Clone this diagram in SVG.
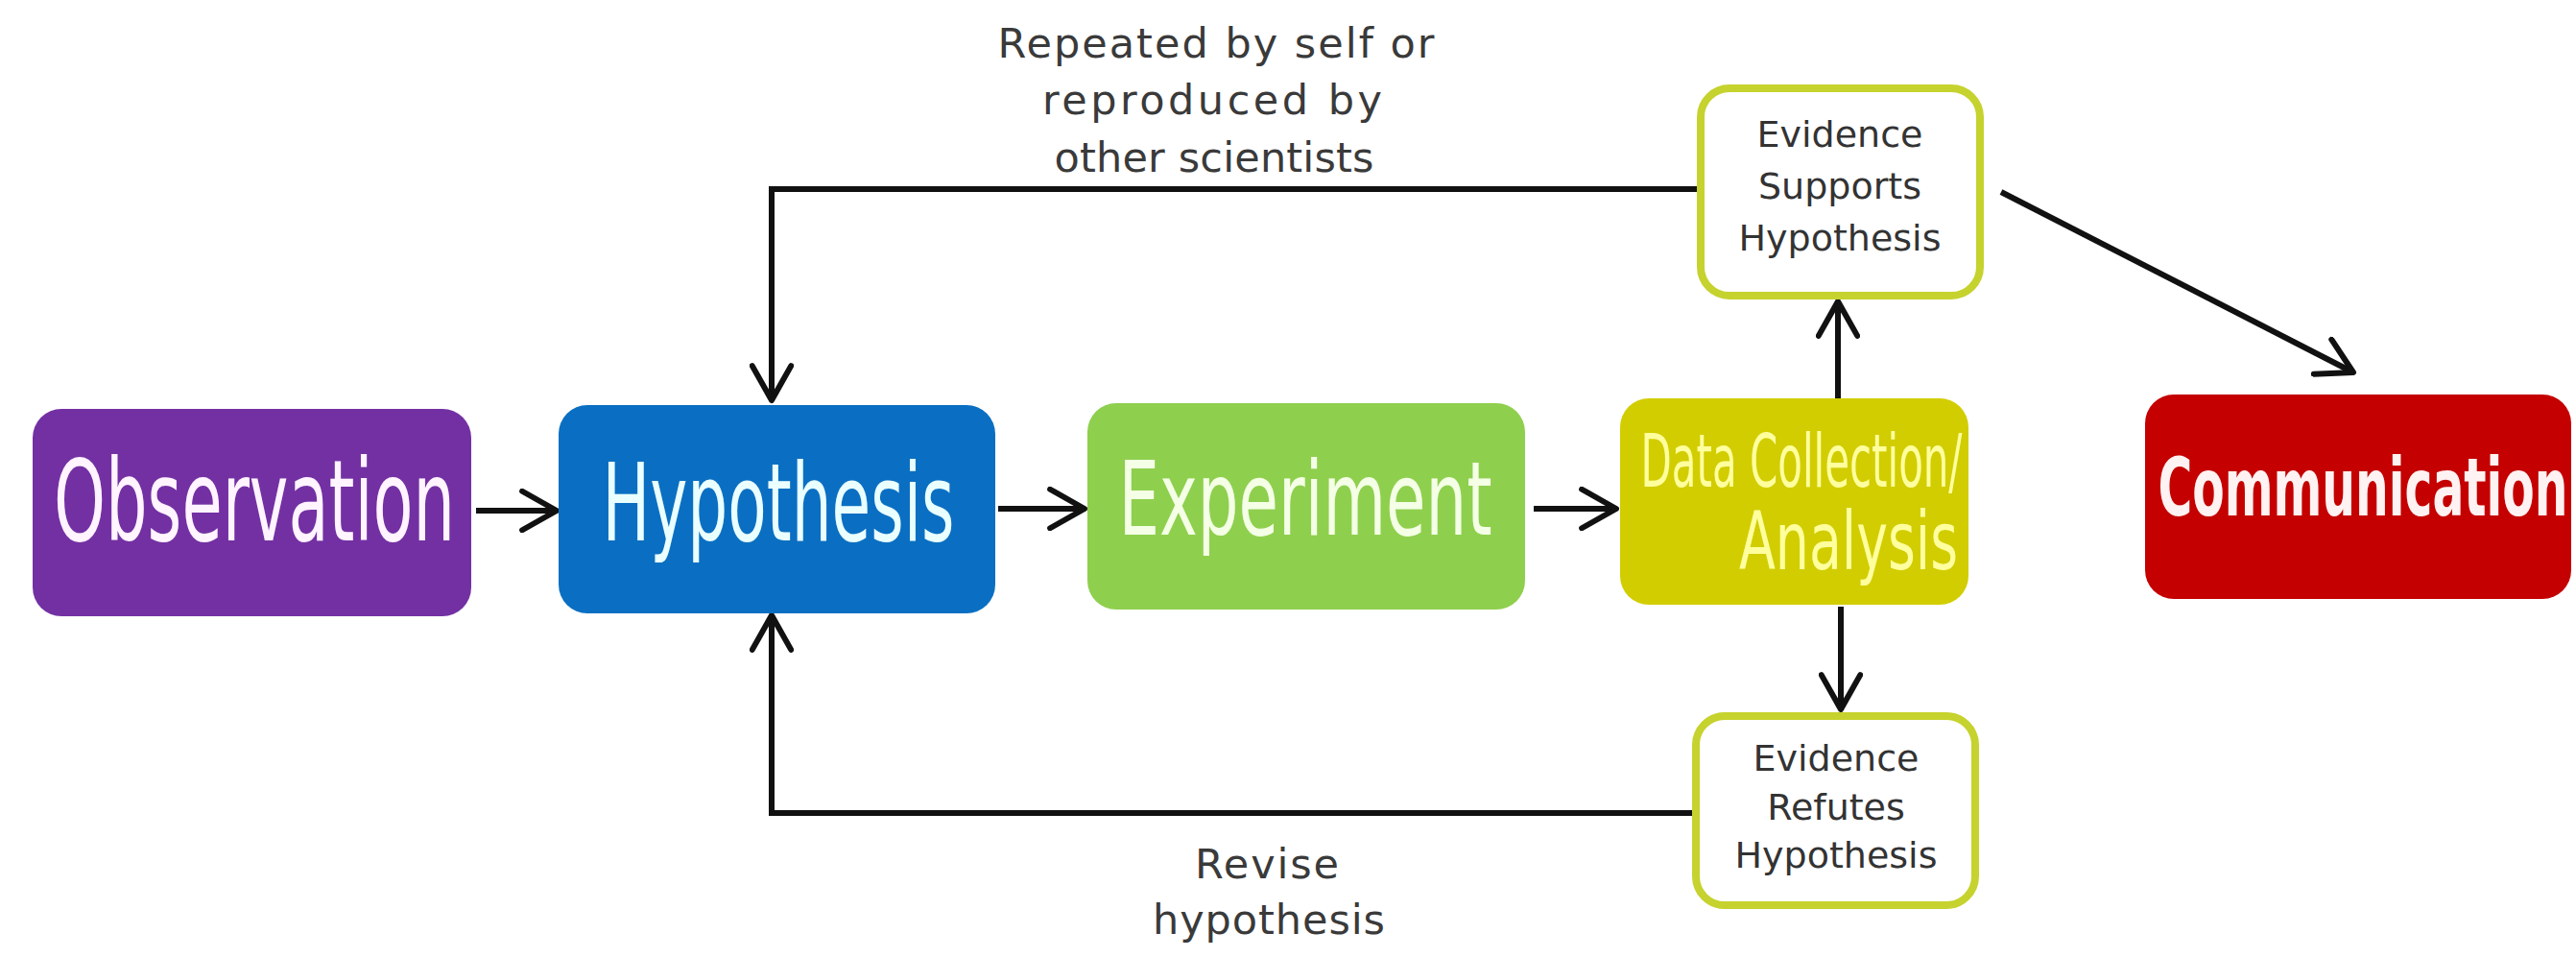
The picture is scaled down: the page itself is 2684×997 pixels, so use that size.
<svg xmlns="http://www.w3.org/2000/svg" width="2684" height="997" viewBox="0 0 2684 997">
<style>
.title{font-family:"Liberation Sans Narrow","DejaVu Sans Condensed","Liberation Sans",sans-serif;text-anchor:middle}
.ev{fill:#ffffff;stroke:#c6d22e;stroke-width:8}
.evt{font-family:"DejaVu Sans","Liberation Sans",sans-serif;font-size:38px;fill:#333333;text-anchor:middle}
.lbl{font-family:"DejaVu Sans","Liberation Sans",sans-serif;font-size:43px;fill:#3a3a3a;text-anchor:middle}
.con{fill:none;stroke:#111111;stroke-width:6;marker-end:url(#arr)}
</style>
<defs>
<marker id="arr" markerUnits="userSpaceOnUse" markerWidth="46" markerHeight="46" viewBox="0 0 50 50" refX="45" refY="25" orient="auto">
<path d="M 6,3 L 45,25 L 6,47" fill="none" stroke="#111111" stroke-width="6.5" stroke-linejoin="round" stroke-linecap="round"/>
</marker>
</defs>
<rect width="2684" height="997" fill="#ffffff"/>
<g id="connectors">
<path class="con" d="M 496,532 L 580,532"/>
<path class="con" d="M 1040,530 L 1130,530"/>
<path class="con" d="M 1598,530 L 1684,530"/>
<path class="con" d="M 1915,415 L 1915,314"/>
<path class="con" d="M 1918,632 L 1918,739"/>
<path class="con" d="M 1768,197 L 804,197 L 804,417"/>
<path class="con" d="M 1766,847 L 804,847 L 804,641"/>
<path class="con" d="M 2085,200 L 2452,388"/>
</g>
<g id="label-repeated">
<text class="lbl" x="1267" y="60" textLength="455" lengthAdjust="spacing">Repeated by self or</text>
<text class="lbl" x="1263" y="119" textLength="354" lengthAdjust="spacing">reproduced by</text>
<text class="lbl" x="1265" y="179" textLength="333" lengthAdjust="spacing">other scientists</text>
</g>
<g id="label-revise">
<text class="lbl" x="1320" y="915" textLength="150" lengthAdjust="spacing">Revise</text>
<text class="lbl" x="1322" y="973" textLength="242" lengthAdjust="spacing">hypothesis</text>
</g>
<g id="observation">
<rect x="34" y="426" width="457" height="216" rx="30" fill="#7330a3"/>
<text class="title" transform="translate(265,563) scale(1,1.64)" font-size="72" fill="#fff4ff" textLength="418" lengthAdjust="spacingAndGlyphs">Observation</text>
</g>
<g id="hypothesis">
<rect x="582" y="422" width="455" height="217" rx="30" fill="#0a6fc2"/>
<text class="title" transform="translate(811,563) scale(1,1.61)" font-size="70" fill="#eaffff" textLength="367" lengthAdjust="spacingAndGlyphs">Hypothesis</text>
</g>
<g id="experiment">
<rect x="1133" y="420" width="456" height="215" rx="30" fill="#8fcf4e"/>
<text class="title" transform="translate(1360,557) scale(1,1.49)" font-size="72" fill="#f4ffe6" textLength="389" lengthAdjust="spacingAndGlyphs">Experiment</text>
</g>
<g id="data-collection">
<rect x="1688" y="415" width="363" height="215" rx="30" fill="#d2cd00"/>
<text class="title" transform="translate(1877,507) scale(1,1.7)" font-size="45" fill="#ffff9e" textLength="335" lengthAdjust="spacingAndGlyphs">Data Collection/</text>
<text class="title" transform="translate(1926,593) scale(1,1.41)" font-size="59" fill="#ffff9e" textLength="228" lengthAdjust="spacingAndGlyphs">Analysis</text>
</g>
<g id="communication">
<rect x="2235" y="411" width="444" height="213" rx="30" fill="#c40000"/>
<text class="title" transform="translate(2462,537) scale(1,1.6)" font-size="52" font-weight="bold" fill="#fff2f2" textLength="427" lengthAdjust="spacingAndGlyphs">Communication</text>
</g>
<g id="evidence-supports">
<rect class="ev" x="1772" y="92" width="291" height="216" rx="30"/>
<text class="evt" x="1917" y="153">Evidence</text>
<text class="evt" x="1917" y="207">Supports</text>
<text class="evt" x="1917" y="261">Hypothesis</text>
</g>
<g id="evidence-refutes">
<rect class="ev" x="1767" y="746" width="291" height="197" rx="30"/>
<text class="evt" x="1913" y="803">Evidence</text>
<text class="evt" x="1913" y="854">Refutes</text>
<text class="evt" x="1913" y="904">Hypothesis</text>
</g>
</svg>
